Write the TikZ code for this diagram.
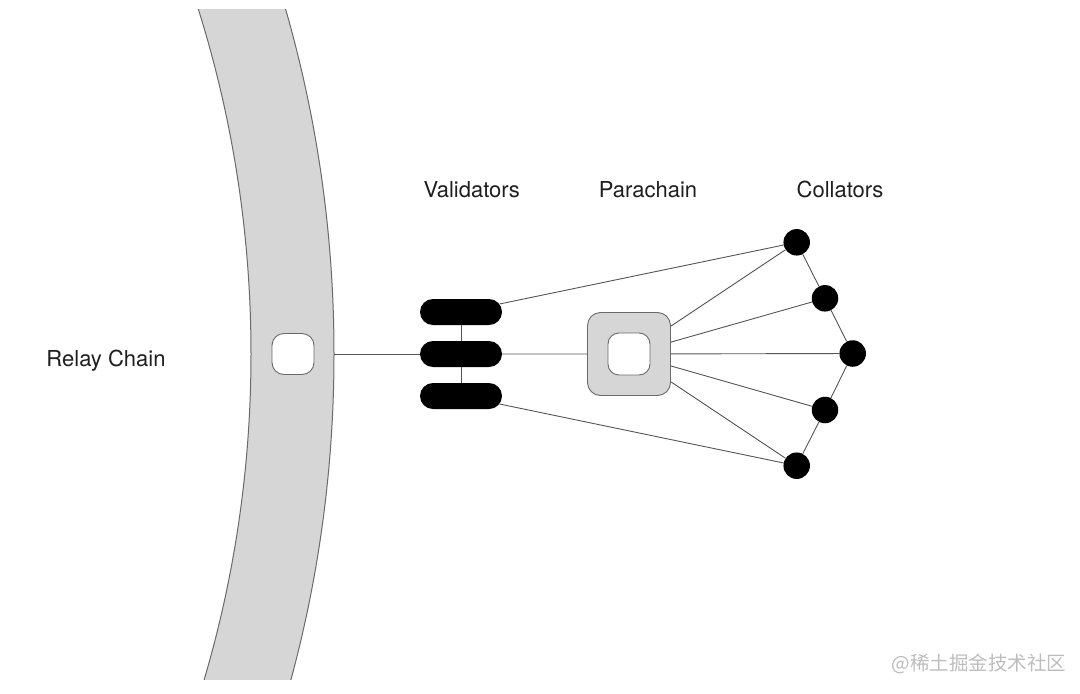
\documentclass[tikz,border=0pt]{standalone}
\usepackage{fontspec}
\setmainfont{TeX Gyre Heros}
\newfontfamily\cjkfont{Noto Sans CJK SC}
\usetikzlibrary{shapes.misc}
\definecolor{bandfill}{HTML}{D6D6D6}
\definecolor{bandline}{HTML}{6A6A6A}
\definecolor{linegray}{HTML}{555555}
\definecolor{labelc}{HTML}{1E1E1E}
\definecolor{wmark}{HTML}{BDBDBD}
\begin{document}
\begin{tikzpicture}[x=1pt,y=-1pt,
  conn/.style={draw=linegray,line width=0.9pt},
  pill/.style={rounded rectangle, fill=black, minimum width=82pt, minimum height=26pt, inner sep=0pt},
  dot/.style={circle, fill=black, minimum size=26.5pt, inner sep=0pt},
  lbl/.style={font=\fontsize{22}{26}\selectfont, text=labelc, anchor=base},
  whitesq/.style={rectangle, fill=white, draw=bandline, line width=0.9pt, inner sep=0pt},
  graysq/.style={rectangle, fill=bandfill, draw=bandline, line width=0.9pt, inner sep=0pt}]
\useasboundingbox (0,0) rectangle (1080,694);
% relay chain band
\begin{scope}
  \clip (0,9) rectangle (1080,679);
  \fill[bandfill, even odd rule] (-910,354) circle [radius=1244pt] (-897,354) circle [radius=1148pt];
  \draw[bandline, line width=1pt] (-910,354) circle [radius=1244pt];
  \draw[bandline, line width=1pt] (-897,354) circle [radius=1148pt];
\end{scope}
% nodes
\node[whitesq, minimum width=42pt, minimum height=41pt, rounded corners=12pt] (rc) at (293,354) {};
\coordinate (rcedge) at (334,354);
\node[pill] (v1) at (461,312) {};
\node[pill] (v2) at (461,354) {};
\node[pill] (v3) at (461,396) {};
\node[graysq, minimum size=83pt, rounded corners=13pt] (para) at (629,354) {};
\node[whitesq, minimum size=42pt, rounded corners=11pt] (parain) at (629,354) {};
\node[dot] (c1) at (796.7,242.3) {};
\node[dot] (c2) at (825,298.3) {};
\node[dot] (c3) at (852.7,353.5) {};
\node[dot] (c4) at (825,410) {};
\node[dot] (c5) at (796.7,465.7) {};
% labels
\node[lbl] (lrelay) at (106,366.5) {Relay Chain};
\node[lbl] (lval) at (471.7,197.5) {Validators};
\node[lbl] (lpara) at (648,197.5) {Parachain};
\node[lbl] (lcol) at (840,197.5) {Collators};
\node[font=\cjkfont\fontsize{19.5}{22}\selectfont, text=wmark] (wm) at (979,664) {@稀土掘金技术社区};
% connectors
\draw[conn] (rcedge) -- (v2);
\draw[conn] (v1) -- (v2);
\draw[conn] (v2) -- (v3);
\draw[conn] (v2) -- (para);
\draw[conn] (v1) -- (c1);
\draw[conn] (v3) -- (c5);
\foreach \c in {c1,c2,c3,c4,c5} \draw[conn] (para) -- (\c);
\draw[conn] (c1) -- (c2) -- (c3) -- (c4) -- (c5);
\end{tikzpicture}
\end{document}
